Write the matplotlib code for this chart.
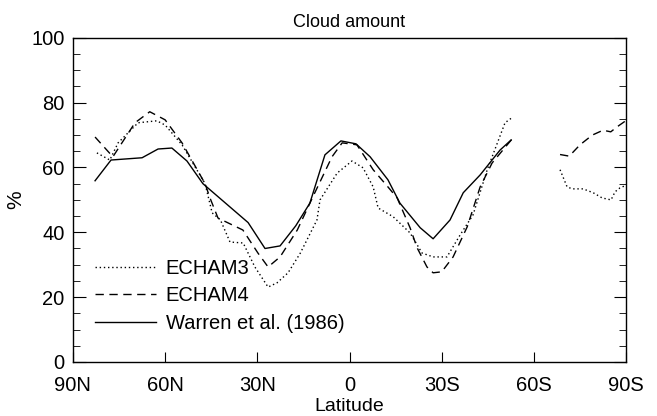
import numpy as np
import matplotlib
matplotlib.use("Agg")
import matplotlib.pyplot as plt

plt.rcParams['font.family'] = ['Liberation Sans', 'DejaVu Sans']

# latitude in degrees, north positive
echam3_lat = [82.2, 78, 75.3, 68.8, 62.7, 60, 54.5, 47, 44.7, 42, 38.9, 34.6, 30.8, 26.5, 23.6, 20,
              16, 10.6, 9.6, 4, -0.8, -4.4, -7.7, -9.3, -14.2, -19.7, -23.6, -27.2, -31.7, -36,
              -40.2, -44.8, -50.6, -53.2]
echam3_val = [64.5, 62.3, 67.6, 73.8, 74.4, 73.1, 67, 55, 46, 43.8, 37, 36.7, 29.3, 23.1, 24.4, 27.5,
              33.6, 43.8, 50, 58.3, 62, 59.9, 54, 47.5, 44.8, 39.8, 33.6, 32.4, 32.4, 39.2,
              45.4, 59.3, 73.8, 75.6]
echam3_lat_ant = [-68.5, -70.8, -72.5, -76, -79.3, -82.2, -85.1, -86.4, -88, -90]
echam3_val_ant = [59.3, 54, 53.4, 53.4, 52.2, 50.6, 50, 52.5, 53.7, 54.5]

echam4_lat = [82.8, 77, 69.8, 65, 60, 54.5, 47, 45.4, 42.8, 34.7, 29.8, 26.5, 22.6, 17, 11.9,
              5.7, 2.4, -2.4, -7.7, -12.5, -15.5, -19.7, -22, -25.2, -27.2, -30, -33.7, -38.3,
              -42.5, -46.4, -52.9]
echam4_val = [69.4, 63.3, 73.8, 77.2, 74.7, 67.6, 55, 50.6, 44.4, 40.7, 33.6, 29.3, 32.4, 40.7, 51,
              63.3, 67.6, 67, 59.3, 54, 50.6, 41.4, 35.2, 29.3, 27.5, 27.8, 32.4, 41.7,
              54, 61.4, 68.8]
echam4_lat_ant = [-68.5, -71.5, -75, -79, -82.5, -85, -87, -90]
echam4_val_ant = [64, 63.5, 67, 70, 71.5, 71, 72.5, 74.5]

warren_lat = [82.8, 77.6, 67.5, 62.3, 57.8, 52.9, 47.7, 33, 27.5, 22.6, 17.5, 12.9, 8, 2.8, -2.1,
              -6.7, -12.5, -16.4, -23, -27.2, -32.7, -37, -42.5, -49, -52.6]
warren_val = [55.9, 62.3, 63, 65.7, 66, 62, 55, 43, 35, 35.8, 42, 49, 63.9, 68.2, 67.3,
              63.3, 56.2, 49, 41.4, 38, 43.8, 52.2, 57.7, 65.4, 68.5]

xticks = [90, 60, 30, 0, -30, -60, -90]
xticklabels = ['90N', '60N', '30N', '0', '30S', '60S', '90S']

fig = plt.figure(figsize=(6.57, 4.16), dpi=100)
ax = fig.add_axes([0.111, 0.130, 0.842, 0.779])

ax.plot(echam3_lat, echam3_val, color='black', lw=1.0, ls=(0, (1, 2)), label='ECHAM3')
ax.plot(echam3_lat_ant, echam3_val_ant, color='black', lw=1.0, ls=(0, (1, 2)))
ax.plot(echam4_lat, echam4_val, color='black', lw=1.0, ls=(0, (6, 4)), label='ECHAM4')
ax.plot(echam4_lat_ant, echam4_val_ant, color='black', lw=1.0, ls=(0, (6, 4)))
ax.plot(warren_lat, warren_val, color='black', lw=1.0, ls='-', label='Warren et al. (1986)')

ax.set_xlim(90, -90)
ax.set_ylim(0, 100)
ax.set_xticks(xticks)
ax.set_xticklabels(xticklabels)
ax.set_yticks(np.arange(0, 101, 20))
ax.set_yticks(np.arange(0, 101, 5), minor=True)
ax.tick_params(axis='y', which='both', direction='in', left=True, right=True, labelsize=14.5)
ax.tick_params(axis='y', which='major', length=9, width=0.8, pad=6)
ax.tick_params(axis='y', which='minor', length=5, width=0.6)
ax.tick_params(axis='x', direction='in', top=False, length=7, width=0.8, labelsize=14.5, pad=10)
for s in ax.spines.values():
    s.set_linewidth(1.0)

ax.set_title('Cloud amount', fontsize=13, pad=8)
ax.set_xlabel('Latitude', fontsize=14, labelpad=2)
ax.set_ylabel('%', fontsize=15, labelpad=4)

ax.legend(loc='lower left', bbox_to_anchor=(0.026, 0.065), frameon=False, fontsize=14.5,
          handlelength=3.0, handletextpad=0.5, labelspacing=0.42, borderaxespad=0)

fig.savefig('out.png', dpi=100)
